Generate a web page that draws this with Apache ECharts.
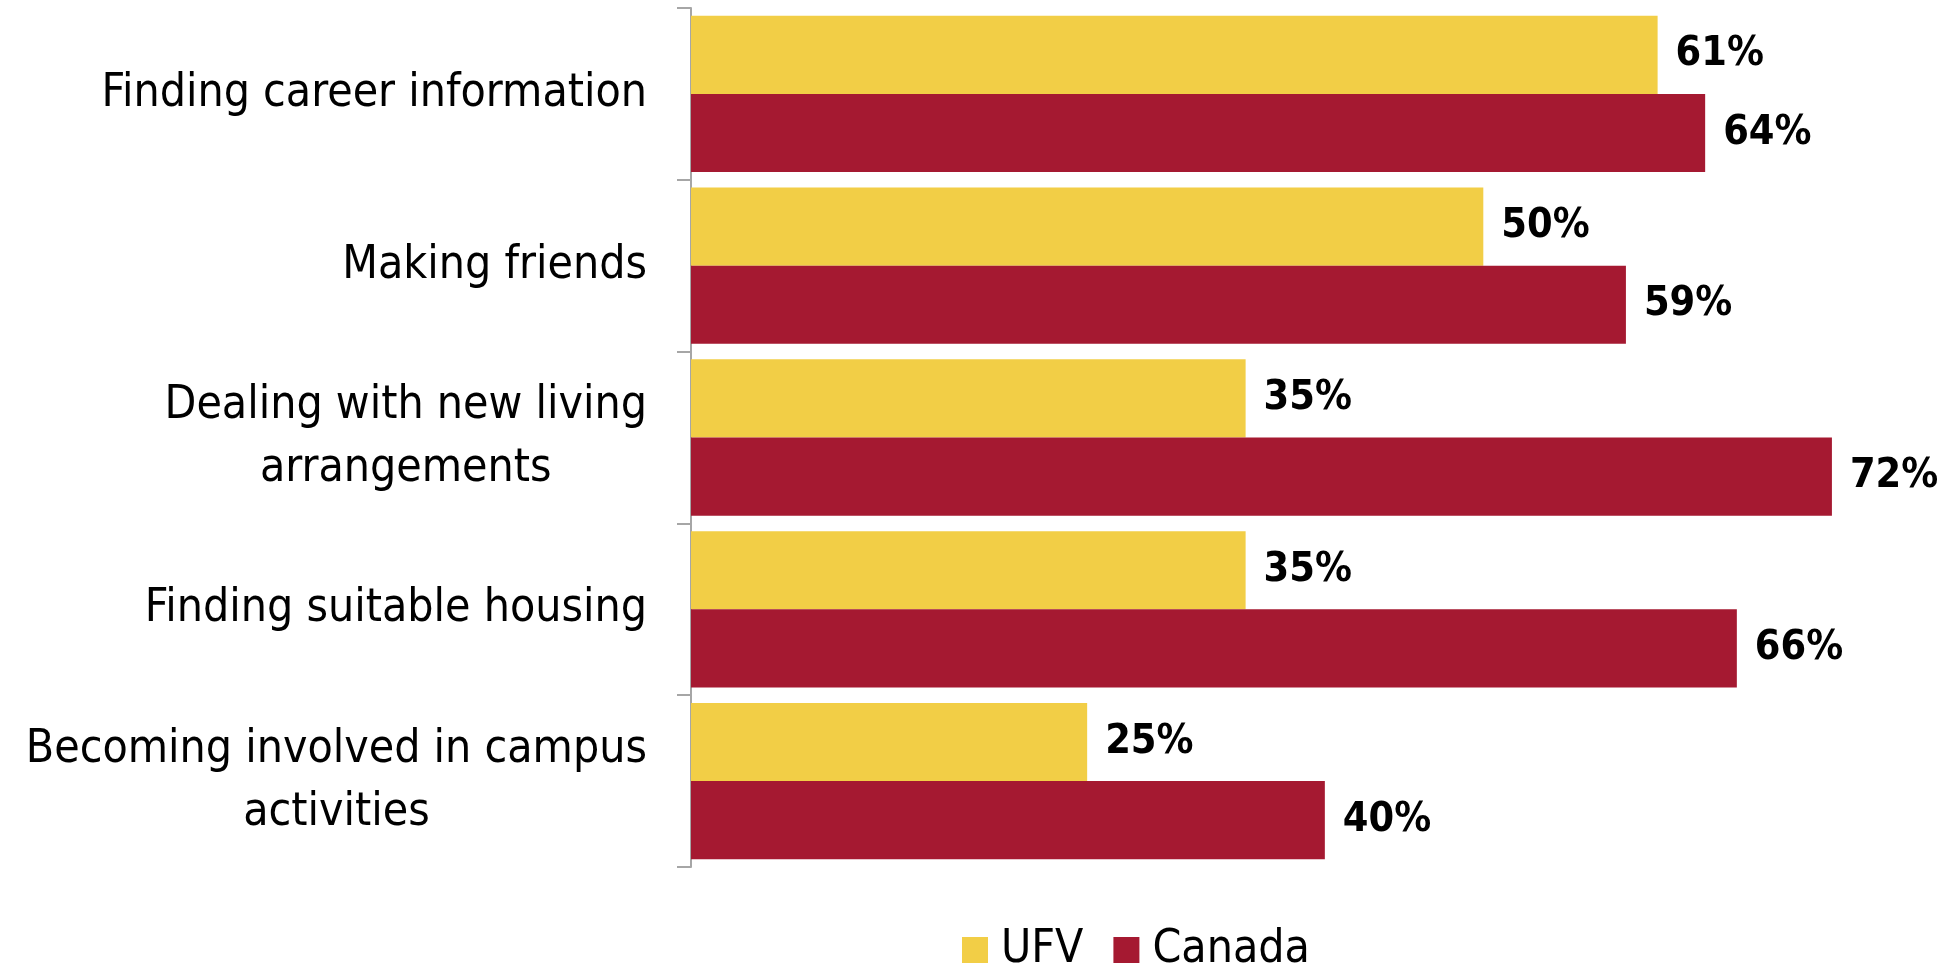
<!DOCTYPE html>
<html>
<head>
<meta charset="utf-8">
<title>Transition challenges</title>
<script src="https://cdn.jsdelivr.net/npm/echarts@6/dist/echarts.min.js"></script>
<style>
  html, body { margin: 0; padding: 0; background: #fff; }
  #chart { width: 1939px; height: 964px; }
</style>
</head>
<body>
<div id="chart"></div>
<script>
// data (percent)
const categories = [
  'Finding career information',
  'Making friends',
  'Dealing with new living\narrangements',
  'Finding suitable housing',
  'Becoming involved in campus\nactivities'
]
const ufvValues = [61, 50, 35, 35, 25]
const canadaValues = [64, 59, 72, 66, 40]

const FONT = '"DejaVu Sans Condensed", "DejaVu Sans", sans-serif'
const YELLOW = '#F2CE46'
const RED = '#A51931'

const chart = echarts.init(document.getElementById('chart'))

// centre each line of a wrapped label inside its right-aligned block
const labelText = (value) => {
  if (value.indexOf('\n') < 0) return value
  return value.split('\n').map(line => '{c|' + line + '}').join('\n')
}

const barLabel = {
  show: true,
  position: 'right',
  distance: 18,
  formatter: '{c}%',
  fontSize: 41,
  fontWeight: 'bold',
  color: '#000',
  fontFamily: FONT
}

const option = {
  animation: false,
  textStyle: { fontFamily: FONT },
  legend: {
    left: 957,
    top: 920,
    itemWidth: 26,
    itemHeight: 26,
    itemGap: 30,
    icon: 'rect',
    textStyle: { fontSize: 46, lineHeight: 50, color: '#000', fontFamily: FONT, padding: [0, 0, 0, 8] },
    data: ['UFV', 'Canada']
  },
  grid: {
    left: 691,
    right: 12,
    top: 8,
    bottom: 97,
    containLabel: false
  },
  xAxis: {
    type: 'value',
    min: 0,
    max: 78,
    show: false
  },
  yAxis: {
    type: 'category',
    inverse: true,
    data: categories,
    axisLine: { show: true, lineStyle: { color: '#A6A6A6', width: 2 } },
    axisTick: { show: true, alignWithLabel: false, length: 14, lineStyle: { color: '#A6A6A6', width: 2 } },
    axisLabel: {
      margin: 44,
      fontSize: 46,
      lineHeight: 63,
      color: '#000',
      fontFamily: FONT,
      formatter: labelText,
      rich: {
        c: { align: 'center', fontSize: 46, lineHeight: 63, color: '#000', fontFamily: FONT }
      }
    }
  },
  series: [
    {
      name: 'UFV',
      type: 'bar',
      data: ufvValues,
      barGap: '0%',
      barCategoryGap: '9%',
      itemStyle: { color: YELLOW },
      label: barLabel
    },
    {
      name: 'Canada',
      type: 'bar',
      data: canadaValues,
      barGap: '0%',
      barCategoryGap: '9%',
      itemStyle: { color: RED },
      label: barLabel
    }
  ]
}

chart.setOption(option)
window.addEventListener('resize', () => chart.resize())
</script>
</body>
</html>
